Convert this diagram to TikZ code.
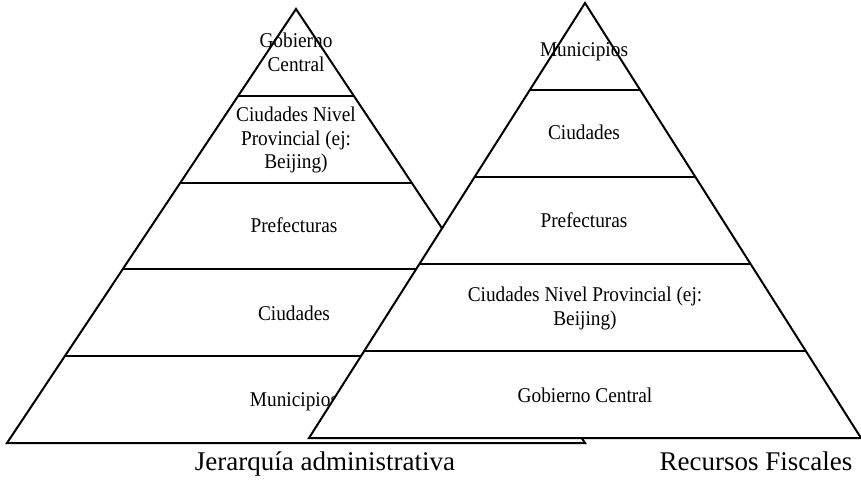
\documentclass[tikz,border=0pt]{standalone}
\usepackage{fontspec}
\setmainfont{Liberation Serif}
\newfontfamily\innerfont[FakeStretch=0.92]{Liberation Serif}
\usetikzlibrary{calc}
\begin{document}
\begin{tikzpicture}[x=1pt,y=-1pt,
  edge/.style={line width=2pt, line join=miter},
  pyr/.style={edge, fill=white},
  lbl/.style={font=\innerfont\fontsize{21}{23.5}\selectfont, inner sep=0pt, align=center},
  captxt/.style={font=\fontsize{27}{30}\selectfont, inner sep=0pt}]
\useasboundingbox (0,0) rectangle (861,481);
% left pyramid: Jerarquia administrativa
\coordinate (LA) at (296,9);
\coordinate (LB1) at (7,443);
\coordinate (LB2) at (585,443);
\draw[pyr] (LA) -- (LB1) -- (LB2) -- cycle;
\foreach \t in {0.2,0.4,0.6,0.8}
  \draw[edge] ($(LA)!\t!(LB1)$) -- ($(LA)!\t!(LB2)$);
\node[lbl] (gobL) at (296,52.5) {Gobierno\\Central};
\node[lbl] (ciuNivL) at (296,140.4) {Ciudades Nivel\\Provincial (ej:\\Beijing)};
\node[lbl, anchor=base] (prefL) at (294,232) {Prefecturas};
\node[lbl, anchor=base] (ciuL) at (294,320) {Ciudades};
\node[lbl, anchor=base] (munL) at (294,406) {Municipios};
% right pyramid: Recursos Fiscales
\coordinate (RA) at (585,3);
\coordinate (RB1) at (309,438);
\coordinate (RB2) at (861,438);
\draw[pyr] (RA) -- (RB1) -- (RB2) -- cycle;
\foreach \t in {0.2,0.4,0.6,0.8}
  \draw[edge] ($(RA)!\t!(RB1)$) -- ($(RA)!\t!(RB2)$);
\node[lbl, anchor=base] (munR) at (584,57) {Municipios};
\node[lbl, anchor=base] (ciuR) at (584,140) {Ciudades};
\node[lbl, anchor=base] (prefR) at (584,227) {Prefecturas};
\node[lbl] (ciuNivR) at (585,308.5) {Ciudades Nivel Provincial (ej:\\Beijing)};
\node[lbl, anchor=base] (gobR) at (585,402) {Gobierno Central};
% captions
\node[captxt, anchor=base] (jer) at (325,470) {Jerarquía administrativa};
\node[captxt, anchor=base] (rec) at (756,470) {Recursos Fiscales};
\end{tikzpicture}
\end{document}
